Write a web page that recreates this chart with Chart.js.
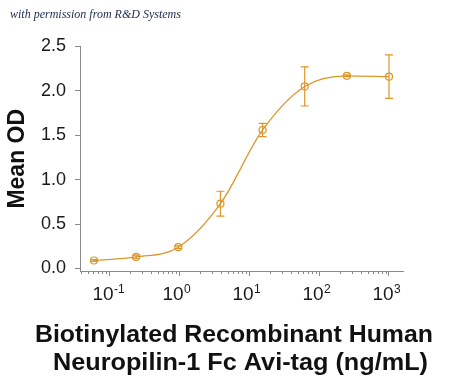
<!DOCTYPE html>
<html>
<head>
<meta charset="utf-8">
<script src="https://cdn.jsdelivr.net/npm/chart.js@4"></script>
<style>
  body { margin: 0; background: #fff; }
  #wrap { position: relative; width: 450px; height: 377px; }
  #credit {
    position: absolute; left: 10px; top: 7px;
    font: italic 12px "Liberation Serif", "DejaVu Serif", serif;
    color: #1c2850;
  }
</style>
</head>
<body>
<div id="wrap">
  <canvas id="odChart" width="450" height="377"></canvas>
  <div id="credit">with permission from R&amp;D Systems</div>
</div>
<script>
// concentration (ng/mL), 1:4 dilution series
const concentrations = [0.061, 0.244, 0.977, 3.906, 15.63, 62.5, 250, 1000];
const meanOD = [0.09, 0.13, 0.24, 0.73, 1.56, 2.05, 2.17, 2.16];
const errorOD = [0.01, 0.02, 0.015, 0.14, 0.075, 0.22, 0.01, 0.245];
const yTicks = [0, 0.5, 1.0, 1.5, 2.0, 2.5];
const xExponents = [-1, 0, 1, 2, 3];
const xTitleLines = ["Biotinylated Recombinant Human", "Neuropilin-1 Fc Avi-tag (ng/mL)"];

const orange = "#DE9628";
const axisGray = "#8a8a8a";
const sans = "'Liberation Sans', Arial, sans-serif";

const isMajor = (v) => xExponents.some((e) => Math.abs(Math.pow(10, e) - v) < 1e-9 * Math.max(1, v));

// vertical error bars with caps
const errorBars = {
  id: "errorBars",
  afterDatasetsDraw(chart) {
    const { ctx, scales: { x, y } } = chart;
    ctx.save();
    ctx.strokeStyle = orange;
    ctx.lineWidth = 1.2;
    concentrations.forEach((c, i) => {
      const px = x.getPixelForValue(c);
      const top = y.getPixelForValue(meanOD[i] + errorOD[i]);
      const bot = y.getPixelForValue(meanOD[i] - errorOD[i]);
      ctx.beginPath();
      ctx.moveTo(px, top); ctx.lineTo(px, bot);
      ctx.moveTo(px - 4, top); ctx.lineTo(px + 4, top);
      ctx.moveTo(px - 4, bot); ctx.lineTo(px + 4, bot);
      ctx.stroke();
    });
    ctx.restore();
  }
};

// short minor ticks, exponents on the "10" labels, and the wide x title
const logAxisExtras = {
  id: "logAxisExtras",
  afterDraw(chart) {
    const { ctx, scales: { x } } = chart;
    ctx.save();
    ctx.strokeStyle = axisGray;
    ctx.lineWidth = 1;
    ctx.beginPath();
    x.ticks.forEach((t) => {
      if (t.major) return;
      const px = Math.round(x.getPixelForValue(t.value)) + 0.5;
      ctx.moveTo(px, x.top);
      ctx.lineTo(px, x.top + 3);
    });
    ctx.stroke();

    ctx.fillStyle = "#1a1a1a";
    ctx.textBaseline = "top";
    ctx.textAlign = "left";
    xExponents.forEach((e) => {
      ctx.font = "19px " + sans;
      const base = ctx.measureText("10").width;
      const px = x.getPixelForValue(Math.pow(10, e)) - 6 + base / 2;
      ctx.font = "12px " + sans;
      ctx.fillText(e < 0 ? "-" + (-e) : String(e), px + 0.5, x.top + 13);
    });

    // title lines, stretched a little sideways like the original
    ctx.fillStyle = "#111";
    ctx.textAlign = "center";
    ctx.textBaseline = "alphabetic";
    ctx.font = "bold 23px " + sans;
    const layout = [
      { cx: 234, base: 342, width: 398 },
      { cx: 240.5, base: 370, width: 375 },
    ];
    xTitleLines.forEach((line, i) => {
      const l = layout[i];
      const sx = l.width / ctx.measureText(line).width;
      ctx.save();
      ctx.translate(l.cx, l.base);
      ctx.scale(sx, 1);
      ctx.fillText(line, 0, 0);
      ctx.restore();
    });
    ctx.restore();
  }
};

new Chart(document.getElementById("odChart"), {
  type: "line",
  data: {
    datasets: [
      {
        data: concentrations.map((c, i) => ({ x: c, y: meanOD[i] })),
        borderColor: orange,
        borderWidth: 1.3,
        backgroundColor: "rgba(255,255,255,0)",
        pointBorderColor: orange,
        pointBorderWidth: 1.2,
        pointRadius: 3.5,
        cubicInterpolationMode: "monotone",
        fill: false,
      },
    ],
  },
  options: {
    responsive: false,
    animation: false,
    layout: { padding: { left: 4, right: 47, top: 46.5, bottom: 0 } },
    plugins: { legend: { display: false }, tooltip: { enabled: false } },
    scales: {
      x: {
        type: "logarithmic",
        min: 0.0385,
        max: 1585,
        afterBuildTicks: (scale) => {
          const ticks = [];
          for (let e = -2; e <= 3; e++) {
            for (let k = 1; k <= 9; k++) {
              const v = k * Math.pow(10, e);
              if (v >= scale.min && v <= scale.max) ticks.push({ value: v, major: k === 1 });
            }
          }
          scale.ticks = ticks;
        },
        afterFit: (scale) => { scale.height = 106; },
        grid: {
          drawOnChartArea: false,
          tickLength: 5,
          color: axisGray,
          tickColor: (c) => (c.tick && isMajor(c.tick.value) ? axisGray : "rgba(0,0,0,0)"),
        },
        border: { color: axisGray, width: 1 },
        ticks: {
          autoSkip: false,
          maxRotation: 0,
          padding: 7,
          labelOffset: -6,
          color: "#1a1a1a",
          font: { family: sans, size: 19 },
          callback: (value) => (isMajor(value) ? "10" : ""),
        },
        title: { display: false },
      },
      y: {
        min: -0.028,
        max: 2.5,
        afterBuildTicks: (scale) => { scale.ticks = yTicks.map((v) => ({ value: v })); },
        afterFit: (scale) => { scale.width = 76; },
        grid: { drawOnChartArea: false, tickLength: 5, color: axisGray, tickColor: axisGray },
        border: { color: axisGray, width: 1 },
        ticks: {
          padding: 9,
          color: "#1a1a1a",
          font: { family: sans, size: 18 },
          callback: (value) => value.toFixed(1),
        },
        title: {
          display: true,
          text: "Mean OD",
          color: "#111",
          font: { family: sans, size: 23, weight: "bold" },
          padding: { top: 0, bottom: 0 },
        },
      },
    },
  },
  plugins: [errorBars, logAxisExtras],
});
</script>
</body>
</html>
